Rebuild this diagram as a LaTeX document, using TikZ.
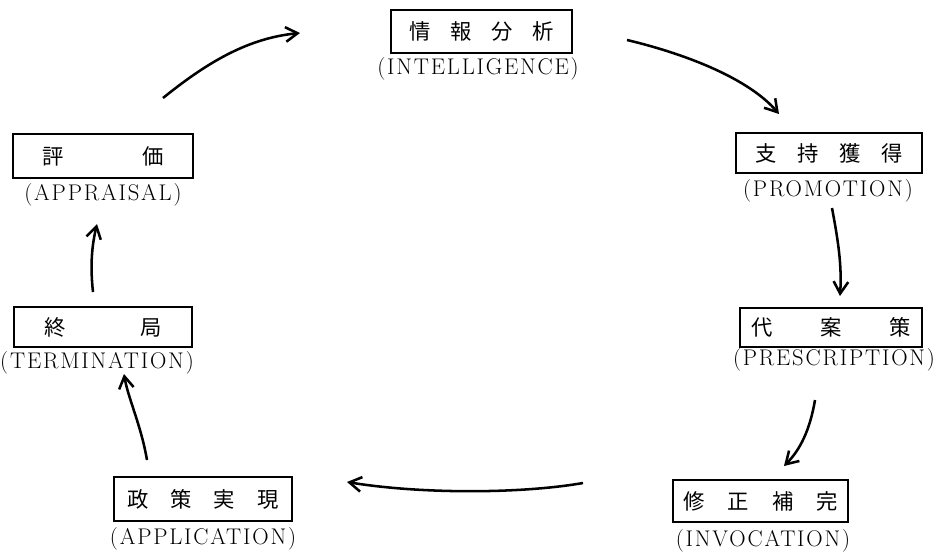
\documentclass[tikz,border=0pt]{standalone}
\usepackage{fontspec}
\newfontfamily\cjk{Noto Sans CJK JP}
\newfontfamily\lab[LetterSpace=8]{Latin Modern Roman}
\usetikzlibrary{arrows.meta}
\newcommand\pxu{0.75pt}
\tikzset{
  stagebox/.style={draw, line width=1.5pt, inner sep=0pt, font=\cjk\fontsize{16}{18}\selectfont},
  stagelabel/.style={inner sep=0pt, font=\lab\fontsize{17}{19}\selectfont},
  flow/.style={line width=1.9pt, -{Straight Barb[length=9pt,width=11pt]}}
}
\begin{document}
\begin{tikzpicture}[x=0.75pt,y=-0.75pt]
\useasboundingbox (0,0) rectangle (940,554);
% boxes
\node[stagebox, minimum width=181*\pxu, minimum height=43*\pxu] (int) at (481.5,31.5) {\makebox[108pt]{情\hfill 報\hfill 分\hfill 析}};
\node[stagelabel] (intl) at (478,69) {(INTELLIGENCE)};
\node[stagebox, minimum width=186*\pxu, minimum height=40*\pxu] (pro) at (829,153) {\makebox[111pt]{支\hfill 持\hfill 獲\hfill 得}};
\node[stagelabel] (prol) at (828,191) {(PROMOTION)};
\node[stagebox, minimum width=182*\pxu, minimum height=39*\pxu] (pre) at (831,327.5) {\makebox[119.25pt]{代\hfill 案\hfill 策}};
\node[stagelabel] (prel) at (834,360) {(PRESCRIPTION)};
\node[stagebox, minimum width=175*\pxu, minimum height=42*\pxu] (inv) at (760.5,501) {\makebox[116.25pt]{修\hfill 正\hfill 補\hfill 完}};
\node[stagelabel] (invl) at (763,541) {(INVOCATION)};
\node[stagebox, minimum width=178*\pxu, minimum height=44*\pxu] (apl) at (203,499) {\makebox[113.25pt]{政\hfill 策\hfill 実\hfill 現}};
\node[stagelabel] (apll) at (203,539) {(APPLICATION)};
\node[stagebox, minimum width=178*\pxu, minimum height=40*\pxu] (ter) at (103,327) {\makebox[88.5pt]{終\hfill 局}};
\node[stagelabel] (terl) at (97,363) {(TERMINATION)};
\node[stagebox, minimum width=180*\pxu, minimum height=44*\pxu] (apr) at (103,156) {\makebox[90.75pt]{評\hfill 価}};
\node[stagelabel] (aprl) at (103,195) {(APPRAISAL)};
% arrow ends
\coordinate (a1s) at (163,98);   \coordinate (a1e) at (300,33);
\coordinate (a2s) at (627,40);   \coordinate (a2e) at (779,114);
\coordinate (a3s) at (832,208);  \coordinate (a3e) at (840,296);
\coordinate (a4s) at (815,400);  \coordinate (a4e) at (784,466);
\coordinate (a5s) at (583,483);  \coordinate (a5e) at (347,482);
\coordinate (a6s) at (147,460);  \coordinate (a6e) at (124,374);
\coordinate (a7s) at (93,292);   \coordinate (a7e) at (97,224);
% arrows
\draw[flow] (a1s) .. controls (210,60) and (250,38) .. (a1e);
\draw[flow] (a2s) .. controls (690,55) and (750,80) .. (a2e);
\draw[flow] (a3s) .. controls (838,240) and (842,265) .. (a3e);
\draw[flow] (a4s) .. controls (810,430) and (800,450) .. (a4e);
\draw[flow] (a5s) .. controls (520,494) and (420,494) .. (a5e);
\draw[flow] (a6s) .. controls (141,425) and (128,398) .. (a6e);
\draw[flow] (a7s) .. controls (90,265) and (92,245) .. (a7e);
\end{tikzpicture}
\end{document}
